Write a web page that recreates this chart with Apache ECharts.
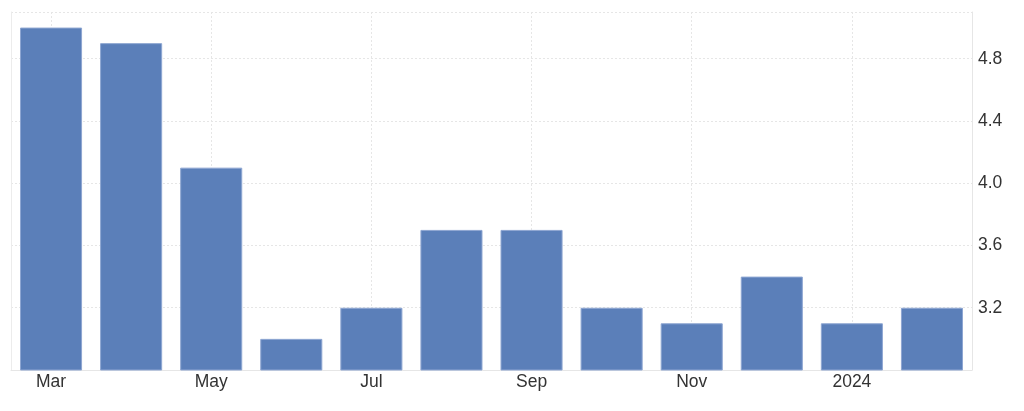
<!DOCTYPE html>
<html><head><meta charset="utf-8">
<script src="https://cdn.jsdelivr.net/npm/echarts@6/dist/echarts.min.js"></script>
<style>html,body{margin:0;padding:0;background:#fff}#c{width:1024px;height:411px}</style>
</head><body><div id="c"></div>
<script>
const categories = ['Mar','Apr','May','Jun','Jul','Aug','Sep','Oct','Nov','Dec','2024','Feb'];
const values = [5.0, 4.9, 4.1, 3.0, 3.2, 3.7, 3.7, 3.2, 3.1, 3.4, 3.1, 3.2];
const yTicks = [3.2, 3.6, 4.0, 4.4, 4.8];

const chart = echarts.init(document.getElementById('c'), null, {renderer:'canvas'});
chart.setOption({
  animation: false,
  grid: {left: 11, right: 52, top: 12, bottom: 41},
  xAxis: {
    type: 'category',
    data: categories,
    axisLine: {show: true, lineStyle: {color: '#e6e6e6', width: 1}},
    axisTick: {show: false},
    axisLabel: {interval: 1, color: '#333', fontSize: 17.5, fontFamily: 'Liberation Sans, Arial, sans-serif', margin: 3},
    splitLine: {show: true, interval: 1, alignWithLabel: true, lineStyle: {color: '#e6e6e6', type: [2, 2], width: 1}}
  },
  yAxis: [{
    type: 'value',
    position: 'right',
    min: 2.8, max: 5.1, interval: 0.4,
    axisLine: {show: true, lineStyle: {color: '#e6e6e6'}},
    axisTick: {show: false},
    axisLabel: {
      color: '#333', fontSize: 17.5, fontFamily: 'Liberation Sans, Arial, sans-serif', margin: 6,
      padding: [0, 0, 4, 0],
      formatter: v => yTicks.some(t => Math.abs(t - v) < 1e-6) ? v.toFixed(1) : ''
    },
    splitLine: {show: true, lineStyle: {color: '#e6e6e6', type: [2, 2], width: 1}}
  }, {
    type: 'value',
    position: 'left',
    min: 2.8, max: 5.1, interval: 0.4,
    axisLine: {show: true, lineStyle: {color: '#ececec'}},
    axisTick: {show: false},
    axisLabel: {show: false},
    splitLine: {show: false}
  }],
  series: [{
    type: 'bar',
    data: values,
    yAxisIndex: 0,
    barCategoryGap: '22.5%',
    itemStyle: {color: '#5b7fb9', borderColor: '#8ea6d2', borderWidth: 1}
  }]
});
</script></body></html>
